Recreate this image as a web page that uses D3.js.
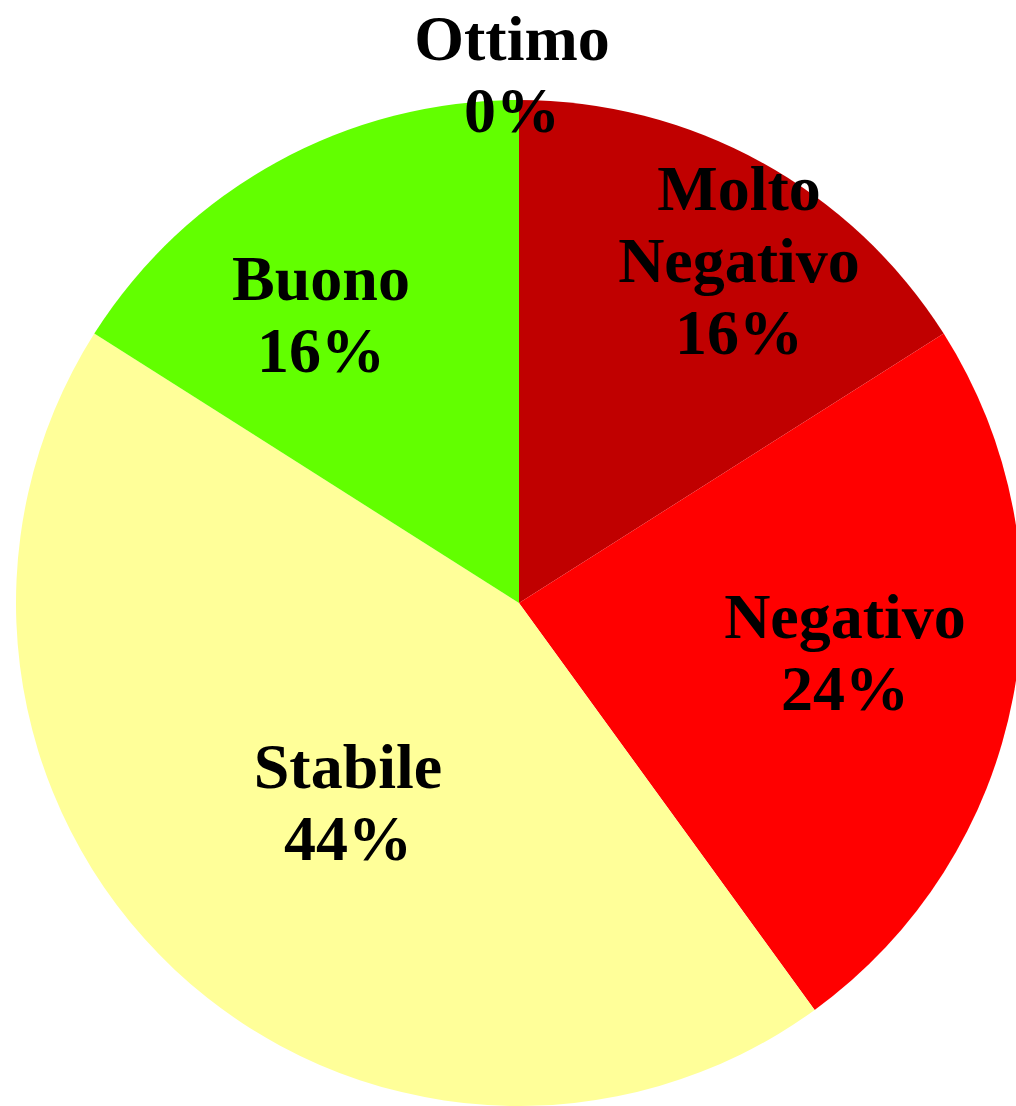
<!DOCTYPE html>
<html><head><meta charset="utf-8">
<script src="https://cdn.jsdelivr.net/npm/d3@7"></script>
<style>html,body{margin:0;padding:0;background:#fff;overflow:hidden}</style>
</head><body>
<svg id="c" width="1016" height="1106"></svg>
<script>
const categories = ["Molto Negativo", "Negativo", "Stabile", "Buono", "Ottimo"];
const values = [16, 24, 44, 16, 0];
const colors = ["#C00000", "#FF0000", "#FFFF99", "#62FF00", "#00B050"];
const labelLines = [["Molto", "Negativo", "16%"], ["Negativo", "24%"], ["Stabile", "44%"], ["Buono", "16%"], ["Ottimo", "0%"]];
// label anchor (x, first baseline) layout
const labelAnchor = [[739, 210], [845, 638], [348, 788], [321, 300], [512, 60]];

const svg = d3.select("#c");
const cx = 519, cy = 603, R = 503;
const g = svg.append("g").attr("transform", `translate(${cx},${cy})`);
const pie = d3.pie().sort(null).value(d => d)(values);
const arc = d3.arc().innerRadius(0).outerRadius(R);
g.selectAll("path").data(pie).join("path")
  .attr("d", arc)
  .attr("fill", (d, i) => colors[i])
  .attr("stroke", "none");

const lab = svg.append("g");
labelLines.forEach((lines, i) => {
  const t = lab.append("text")
    .attr("text-anchor", "middle")
    .attr("font-family", "'Liberation Serif','Times New Roman',serif")
    .attr("font-weight", "bold")
    .attr("font-size", 64)
    .attr("fill", "#000");
  lines.forEach((s, j) => {
    t.append("tspan").attr("x", labelAnchor[i][0]).attr("y", labelAnchor[i][1] + j * 72).text(s);
  });
});
</script>
</body></html>
